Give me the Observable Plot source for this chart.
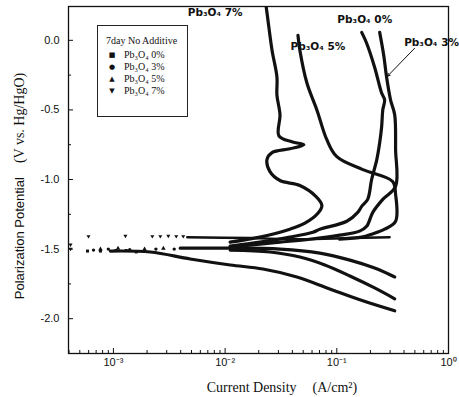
<!DOCTYPE html>
<html><head><meta charset="utf-8">
<script src="https://cdn.jsdelivr.net/npm/d3@7"></script>
<script src="https://cdn.jsdelivr.net/npm/@observablehq/plot@0.6"></script>
<style>
body{margin:0;background:#fff;}
#wrap{position:relative;width:459px;height:397px;}
#legend{position:absolute;left:97px;top:25px;width:91px;height:92px;border:1px solid #222;box-sizing:border-box;font-family:"Liberation Serif","Times New Roman",serif;font-size:10px;color:#111;background:#fff;}
#legend .row{position:absolute;left:0;white-space:nowrap;line-height:10px;}
#legend .sym{position:absolute;left:9px;width:10px;text-align:center;font-family:"DejaVu Sans",sans-serif;font-size:7px;}
#legend .lab{position:absolute;left:26px;}
</style></head>
<body><div id="wrap"></div>
<script>
// ---- data: [current density (A/cm^2), potential (V vs Hg/HgO)] ----
const seriesNames = ["Pb₃O₄ 0%", "Pb₃O₄ 3%", "Pb₃O₄ 5%", "Pb₃O₄ 7%"];
const legendTitle = "7day  No Additive";

const pb0Anodic = [[0.167,0.057],[0.185,-0.021],[0.218,-0.193],[0.252,-0.379],[0.268,-0.429],[0.258,-0.5],[0.252,-0.621],[0.242,-0.736],[0.228,-0.857],[0.205,-1.0],[0.189,-1.143],[0.167,-1.193],[0.154,-1.236],[0.123,-1.3],[0.0705,-1.357],[0.0611,-1.379],[0.038,-1.414],[0.0205,-1.45],[0.0111,-1.479]];
const pb0Cathodic = [[9.4e-4,-1.514],[2.14e-3,-1.521],[4.87e-3,-1.571],[0.0111,-1.614],[0.0218,-1.643],[0.0439,-1.7],[0.0866,-1.786],[0.171,-1.871],[0.33,-1.943]];
const pb0Scatter = [[5.86e-4,-1.514],[7.65e-4,-1.514],[1.05e-3,-1.51],[1.3e-3,-1.51],[1.6e-3,-1.52]];

const pb3Anodic = [[0.242,0.057],[0.263,-0.107],[0.279,-0.264],[0.303,-0.429],[0.33,-0.536],[0.336,-0.786],[0.336,-1.05],[0.258,-1.143],[0.21,-1.236],[0.185,-1.336],[0.16,-1.371],[0.106,-1.4],[0.0574,-1.429],[0.031,-1.45],[0.0167,-1.471],[0.0111,-1.486]];
const pb3Cathodic = [[0.0111,-1.507],[0.0252,-1.521],[0.0467,-1.557],[0.0781,-1.614],[0.131,-1.693],[0.218,-1.779],[0.33,-1.857]];
const pb3Scatter = [[6.63e-4,-1.507],[9.0e-4,-1.50],[1.4e-3,-1.505],[2.4e-3,-1.50],[3.5e-3,-1.50]];

const pb5Anodic = [[0.0449,0.036],[0.0467,-0.071],[0.054,-0.307],[0.0663,-0.5],[0.0814,-0.714],[0.1,-0.836],[0.171,-0.929],[0.316,-1.014],[0.336,-1.107],[0.336,-1.3],[0.268,-1.357],[0.205,-1.393],[0.167,-1.414],[0.106,-1.429]];
const pb5Cathodic = [[3.96e-3,-1.493],[0.0111,-1.493],[0.031,-1.5],[0.0705,-1.529],[0.131,-1.579],[0.218,-1.636],[0.33,-1.7]];
const pb5Scatter = [[7.65e-4,-1.50],[1.1e-3,-1.495],[1.9e-3,-1.50],[2.8e-3,-1.495]];

const pb7Anodic = [[0.0111,-1.45],[0.0205,-1.414],[0.038,-1.357],[0.0518,-1.314],[0.0677,-1.243],[0.0735,-1.186],[0.0649,-1.121],[0.0467,-1.043],[0.031,-1.007],[0.0252,-0.943],[0.0237,-0.857],[0.0263,-0.807],[0.038,-0.779],[0.0507,-0.75],[0.0396,-0.729],[0.0303,-0.686],[0.031,-0.536],[0.0291,-0.393],[0.0291,-0.264],[0.0263,-0.071],[0.0242,0.143],[0.0233,0.243]];
const pb7Plateau = [[4.58e-3,-1.414],[0.0167,-1.421],[0.0467,-1.429],[0.131,-1.421],[0.297,-1.414]];
const pb7Scatter = [[4.13e-4,-1.47],[4.13e-4,-1.50],[5.98e-4,-1.41],[1.28e-3,-1.407],[2.23e-3,-1.41],[2.63e-3,-1.41],[3.1e-3,-1.407],[3.65e-3,-1.41],[4.22e-3,-1.41]];

const annotations = [
  {I:8.14e-3, E:0.20, t:"Pb₃O₄ 7%"},
  {I:0.178, E:0.15, t:"Pb₃O₄ 0%"},
  {I:0.0677, E:-0.043, t:"Pb₃O₄ 5%"},
  {I:0.705, E:-0.02, t:"Pb₃O₄ 3%"}
];
const arrowData = [{I1:0.497, E1:-0.057, I2:0.285, E2:-0.257}];

const xTicks = [1e-3, 1e-2, 1e-1, 1];
const xTickLabels = ["10⁻³", "10⁻²", "10⁻¹", "10⁰"];
const yTicks = [0, -0.5, -1, -1.5, -2];
const yTickLabels = ["0.0", "-0.5", "-1.0", "-1.5", "-2.0"];
const yMinor = [-0.25, -0.75, -1.25, -1.75];

// ---- build ----
const xMinor = [];
[1e-4,1e-3,1e-2,1e-1].forEach(d => { for (let k = 2; k <= 9; k++) { const v = d*k; if (v > 3.96e-4 && v < 1) xMinor.push(v); } });
const xLab = new Map(xTicks.map((d,i)=>[d, xTickLabels[i]]));
const yLab = new Map(yTicks.map((d,i)=>[d, yTickLabels[i]]));

const downTri = {draw(ctx, size){ const r = Math.sqrt(size/2.2); ctx.moveTo(-r,-r*0.7); ctx.lineTo(r,-r*0.7); ctx.lineTo(0,r*1.0); ctx.closePath(); }};
const symbols = ["square","circle","triangle",downTri];

const ink = "#111";
const lineOpts = {x:d=>d[0], y:d=>d[1], stroke:ink, strokeWidth:3.2, curve:"catmull-rom", clip:true};
const dotOpts = (s) => ({x:d=>d[0], y:d=>d[1], fill:ink, stroke:null, r:1.7, symbol:s, clip:true});

const chart = Plot.plot({
  width:459, height:397, marginLeft:68, marginRight:11, marginTop:6, marginBottom:44,
  x:{type:"log", domain:[3.96e-4, 1]},
  y:{domain:[-2.25, 0.243]},
  style:{fontFamily:"'Liberation Sans', Arial, sans-serif", fontSize:"11px", color:ink, background:"#fff"},
  marks:[
    Plot.axisX({ticks:xMinor, tickSize:-3, tickFormat:()=>"", label:null}),
    Plot.axisX({ticks:xTicks, tickSize:-5, tickPadding:10, tickFormat:d=>xLab.get(d), label:null, fontSize:11}),
    Plot.axisY({ticks:yMinor, tickSize:-3, tickFormat:()=>"", label:null}),
    Plot.axisY({ticks:yTicks, tickSize:-5, tickFormat:d=>yLab.get(d), label:null}),
    Plot.line(pb0Anodic, lineOpts), Plot.line(pb0Cathodic, lineOpts),
    Plot.line(pb3Anodic, lineOpts), Plot.line(pb3Cathodic, lineOpts),
    Plot.line(pb5Anodic, lineOpts), Plot.line(pb5Cathodic, lineOpts),
    Plot.line(pb7Anodic, lineOpts), Plot.line(pb7Plateau, {...lineOpts, strokeWidth:2.5}),
    Plot.dot(pb0Scatter, dotOpts(symbols[0])),
    Plot.dot(pb3Scatter, dotOpts(symbols[1])),
    Plot.dot(pb5Scatter, dotOpts(symbols[2])),
    Plot.dot(pb7Scatter, dotOpts(symbols[3])),
    Plot.text(annotations, {x:"I", y:"E", text:"t", fontWeight:"bold", fontSize:10.5, fill:ink, fontFamily:"'DejaVu Sans', sans-serif"}),
    Plot.arrow(arrowData, {x1:"I1", y1:"E1", x2:"I2", y2:"E2", stroke:ink, strokeWidth:1, headLength:4}),
    Plot.frame({stroke:ink, strokeWidth:1.3})
  ]
});

const svg = d3.select(chart);
const yl = svg.append("text").attr("transform","translate(24,186) rotate(-90)").attr("text-anchor","middle").attr("fill",ink);
yl.append("tspan").attr("font-family","'Liberation Sans', Arial, sans-serif").attr("font-size",13).text("Polarization Potential");
yl.append("tspan").attr("dx",14).attr("font-family","'Liberation Serif','Times New Roman',serif").attr("font-size",14).text("(V vs. Hg/HgO)");
const xl = svg.append("text").attr("x",282).attr("y",392).attr("text-anchor","middle").attr("fill",ink).attr("font-family","'Liberation Serif','Times New Roman',serif").attr("font-size",14);
xl.append("tspan").text("Current Density");
xl.append("tspan").attr("dx",16).text("(A/cm²)");

const wrap = document.getElementById("wrap");
wrap.appendChild(chart);

// legend
const leg = document.createElement("div");
leg.id = "legend";
const glyphs = ["■","●","▲","▼"];
const rowsY = [10, 24, 36, 48, 60];
const h = document.createElement("div"); h.className="row"; h.style.top=rowsY[0]+"px"; h.style.left="8px"; h.textContent = legendTitle; leg.appendChild(h);
seriesNames.forEach((n,i)=>{
  const r = document.createElement("div"); r.className="row"; r.style.top=rowsY[i+1]+"px"; r.style.width="100%";
  const s = document.createElement("span"); s.className="sym"; s.textContent=glyphs[i];
  const l = document.createElement("span"); l.className="lab"; l.textContent=n;
  r.appendChild(s); r.appendChild(l); leg.appendChild(r);
});
wrap.appendChild(leg);
</script>
</body></html>
